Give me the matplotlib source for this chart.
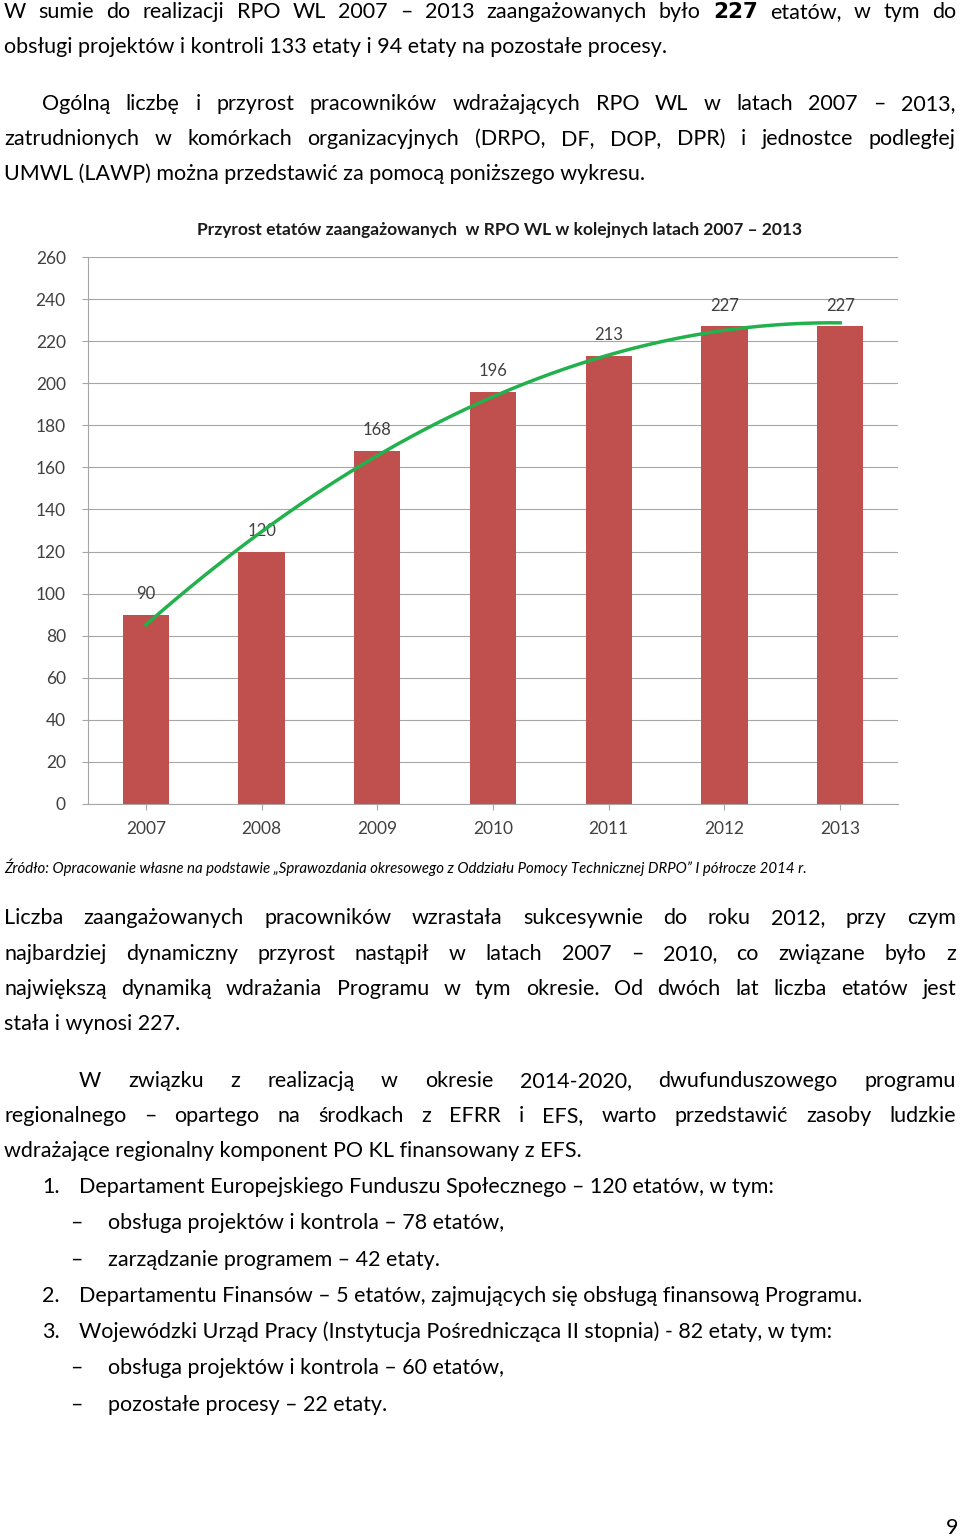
import matplotlib.pyplot as plt
import numpy as np

years = ["2007", "2008", "2009", "2010", "2011", "2012", "2013"]
etaty = [90, 120, 168, 196, 213, 227, 227]
yticks = list(range(0, 261, 20))

W, H = 960, 1537
fig = plt.figure(figsize=(W / 100, H / 100), dpi=100)
plt.rcParams["font.family"] = "Lato"
renderer = fig.canvas.get_renderer()

def txt(x, y, s, **kw):
    kw.setdefault("fontsize", 15.5)
    return fig.text(x / W, 1 - y / H, s, va="center", ha=kw.pop("ha", "left"), **kw)

def justify(x0, y, s, right=956):
    # place words one by one so the line fills up to the right margin
    words = s.split(" ")
    arts = [txt(0, y, w) for w in words]
    widths = [a.get_window_extent(renderer).width for a in arts]
    gap = (right - x0 - sum(widths)) / (len(words) - 1)
    x = x0
    for a, w in zip(arts, widths):
        a.set_x(x / W)
        x += w + gap

# (x, y, text, justified)
lines = [
    (4, 12, "W sumie do realizacji RPO WL 2007 – 2013 zaangażowanych było $\\bf{227}$ etatów, w tym do", True),
    (4, 47, "obsługi projektów i kontroli 133 etaty i 94 etaty na pozostałe procesy.", False),
    (42, 104, "Ogólną liczbę i przyrost pracowników wdrażających RPO WL w latach 2007 – 2013,", True),
    (4, 139, "zatrudnionych w komórkach organizacyjnych (DRPO, DF, DOP, DPR) i jednostce podległej", True),
    (4, 174, "UMWL (LAWP) można przedstawić za pomocą poniższego wykresu.", False),
    (4, 918, "Liczba zaangażowanych pracowników wzrastała sukcesywnie do roku 2012, przy czym", True),
    (4, 954, "najbardziej dynamiczny przyrost nastąpił w latach 2007 – 2010, co związane było z", True),
    (4, 989, "największą dynamiką wdrażania Programu w tym okresie. Od dwóch lat liczba etatów jest", True),
    (4, 1024, "stała i wynosi 227.", False),
    (79, 1081, "W związku z realizacją w okresie 2014-2020, dwufunduszowego programu", True),
    (4, 1116, "regionalnego – opartego na środkach z EFRR i EFS, warto przedstawić zasoby ludzkie", True),
    (4, 1151, "wdrażające regionalny komponent PO KL finansowany z EFS.", False),
    (42, 1187, "1.", False),
    (79, 1187, "Departament Europejskiego Funduszu Społecznego – 120 etatów, w tym:", False),
    (70, 1223, "–", False),
    (108, 1223, "obsługa projektów i kontrola – 78 etatów,", False),
    (70, 1260, "–", False),
    (108, 1260, "zarządzanie programem – 42 etaty.", False),
    (42, 1296, "2.", False),
    (79, 1296, "Departamentu Finansów – 5 etatów, zajmujących się obsługą finansową Programu.", False),
    (42, 1332, "3.", False),
    (79, 1332, "Wojewódzki Urząd Pracy (Instytucja Pośrednicząca II stopnia) - 82 etaty, w tym:", False),
    (70, 1368, "–", False),
    (108, 1368, "obsługa projektów i kontrola – 60 etatów,", False),
    (70, 1405, "–", False),
    (108, 1405, "pozostałe procesy – 22 etaty.", False),
]
for x, y, s, just in lines:
    if just:
        justify(x, y, s)
    else:
        txt(x, y, s)

txt(4, 867, "Źródło: Opracowanie własne na podstawie „Sprawozdania okresowego z Oddziału Pomocy Technicznej DRPO” I półrocze 2014 r.",
    fontsize=10.8, style="italic")
txt(958, 1528, "9", ha="right")
txt(500, 230, "Przyrost etatów zaangażowanych  w RPO WL w kolejnych latach 2007 – 2013",
    fontsize=12.5, fontweight="bold", ha="center", color="#1a1a1a")

ax = fig.add_axes([88 / W, 1 - 804 / H, 810 / W, (804 - 257) / H])
x = np.arange(len(years))
ax.bar(x, etaty, width=0.4, color="#c0504d", zorder=2)
for xi, v in zip(x, etaty):
    ax.text(xi, v + 6, str(v), ha="center", va="bottom", fontsize=12, color="#404040")

# Excel-style polynomial trendline
coef = np.polyfit(x, etaty, 2)
xs = np.linspace(0, 6, 200)
ax.plot(xs, np.polyval(coef, xs), color="#22b14c", lw=2.5, zorder=3)

ax.set_xlim(-0.5, 6.5)
ax.set_ylim(0, 260)
ax.set_yticks(yticks)
ax.set_xticks(x)
ax.set_xticklabels(years)
ax.grid(axis="y", color="#a6a6a6", lw=0.8, zorder=0)
for s in ["top", "right"]:
    ax.spines[s].set_visible(False)
ax.spines["left"].set_color("#a6a6a6")
ax.spines["bottom"].set_color("#a6a6a6")
ax.tick_params(colors="#404040", labelsize=12.5, length=4, color="#a6a6a6")
ax.tick_params(axis="y", pad=12)
ax.tick_params(axis="x", pad=8)

fig.savefig("out.png", dpi=100)
